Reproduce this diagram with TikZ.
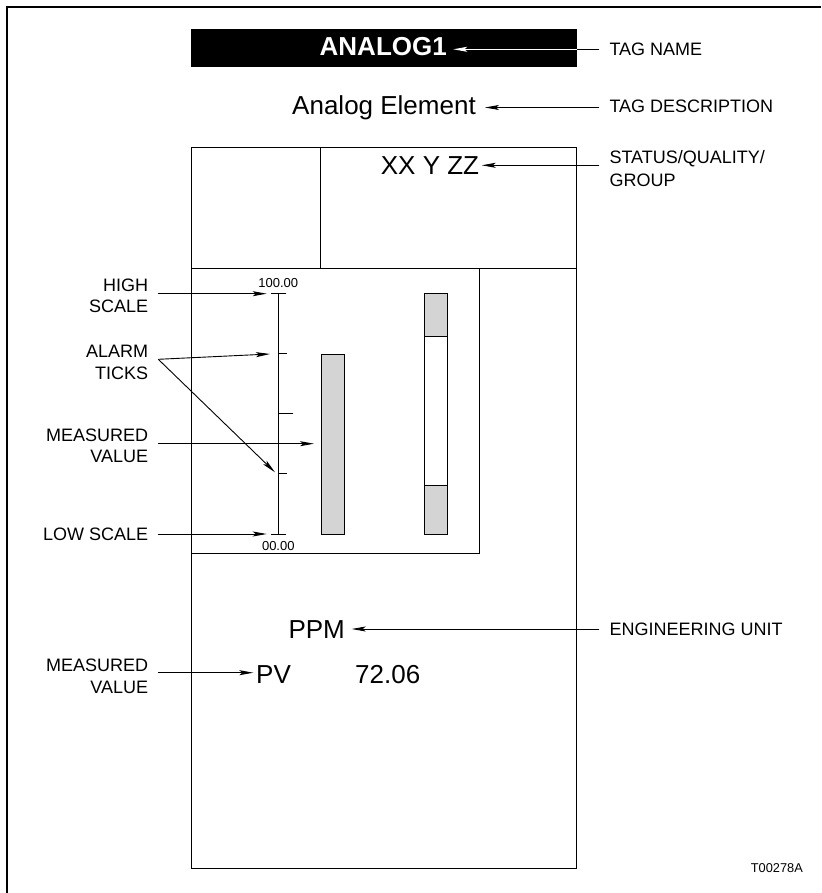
\documentclass[tikz,border=0pt]{standalone}
\usepackage{fontspec}
\setmainfont{Liberation Sans}
\usetikzlibrary{arrows.meta,calc}
\definecolor{bargray}{RGB}{212,212,212}
\begin{document}
\begin{tikzpicture}[x=1pt,y=-1pt,
  lbl/.style={font=\fontsize{18}{21.7}\selectfont, inner sep=0pt, align=right, anchor=base east},
  rlbl/.style={font=\fontsize{18}{22.7}\selectfont, inner sep=0pt, align=left, anchor=base west},
  big/.style={font=\fontsize{26}{30}\selectfont, inner sep=0pt},
  small/.style={font=\fontsize{13}{15}\selectfont, inner sep=0pt, anchor=base},
  arr/.style={-{Stealth[length=14pt,width=5pt,inset=3pt]}, line width=0.9pt},
  ln/.style={line width=1pt},
  bar/.style={fill=bargray, draw=black, line width=1pt}
]
\useasboundingbox (0,0) rectangle (821,893);
% frame
\draw[line width=2pt] (6.5,893) -- (6.5,7) -- (821,7);

% tag name block
\fill (190.7,29) rectangle (576.7,66.7);
\coordinate (boxedge) at (576.7,49.3);
\node[big, text=white, font=\fontsize{26}{30}\selectfont\bfseries, anchor=base east] (tag) at (447,56) {ANALOG1};
\node[big, anchor=base east] (desc) at (476,115) {Analog Element};

% main box
\draw[ln] (191.7,148) rectangle (576,868);
\draw[ln] (191.7,268) -- (576,268);
\draw[ln] (320.7,148) -- (320.7,268);
\draw[ln] (191.7,268) rectangle (479.3,553);
\node[big, anchor=base east] (stat) at (479.3,175) {XX Y ZZ};

% scale
\draw[ln] (278.7,293.7) -- (278.7,534);
\draw[ln] (271,293.7) -- (286,293.7);
\draw[ln] (271,534) -- (286,534);
\draw[ln] (278.7,353.7) -- (287.3,353.7);
\draw[ln] (278.7,413.3) -- (292.7,413.3);
\draw[ln] (278.7,473.3) -- (287.3,473.3);
\node[small] (hi) at (278.3,287.3) {100.00};
\node[small] (lo) at (278.3,550.3) {00.00};

% bars
\draw[bar] (321.7,354.3) rectangle (344,534);
\draw[bar] (424.3,293.3) rectangle (447.3,336.3);
\draw[ln, fill=white] (424.3,336.3) rectangle (447.3,485.3);
\draw[bar] (424.3,485.3) rectangle (447.3,534);

% lower texts
\node[big, anchor=base west] (ppm) at (288.3,638.3) {PPM};
\node[big, anchor=base west] (pv) at (256,683.3) {PV};
\node[big, anchor=base west] (val) at (355,683.3) {72.06};

% right labels
\node[rlbl] (ltn) at (609.3,56) {TAG NAME};
\node[rlbl] (ltd) at (609.3,112.7) {TAG DESCRIPTION};
\node[rlbl] (lsq) at (609.3,186.7) {STATUS/QUALITY/\\GROUP};
\node[rlbl] (leu) at (609.3,635) {ENGINEERING UNIT};
\node[font=\fontsize{12.8}{15}\selectfont, inner sep=0pt, anchor=base west] (fig) at (750.7,872.7) {T00278A};

% left labels
\node[lbl] (lhs) at (148.3,312.7) {HIGH\\SCALE};
\node[lbl] (lat) at (148.3,379) {ALARM\\TICKS};
\node[lbl] (lmv) at (148.3,462.7) {MEASURED\\VALUE};
\node[lbl] (lls) at (148.3,540) {LOW SCALE};
\node[lbl] (lpv) at (148.3,693) {MEASURED\\VALUE};

% connectors (right)
\coordinate (s1) at (599.3,49.3);  \coordinate (e1) at (453.3,49.3);
\coordinate (s2) at (599.3,107.5); \coordinate (e2) at (485,107.5);
\coordinate (s3) at (599.3,165.3); \coordinate (e3) at (481.7,165.3);
\coordinate (s4) at (599.3,629);   \coordinate (e4) at (351.7,629);
\draw[arr, white] (boxedge) -- (e1);
\draw[line width=0.9pt] (s1) -- (boxedge);
\draw[arr] (s2) -- (e2);
\draw[arr] (s3) -- (e3);
\draw[arr] (s4) -- (e4);

% connectors (left)
\coordinate (t1) at (158.3,293.7); \coordinate (f1) at (266.7,293.7);
\coordinate (t2) at (158.3,359.3); \coordinate (f2a) at (270,354); \coordinate (f2b) at (275,472.3);
\coordinate (t3) at (158.3,443.7); \coordinate (f3) at (314,443.7);
\coordinate (t4) at (158.3,534);   \coordinate (f4) at (266.7,534);
\coordinate (t5) at (158.3,672.7); \coordinate (f5) at (253.3,672.7);
\draw[arr] (t1) -- (f1);
\draw[arr] (t2) -- (f2a);
\draw[arr] (t2) -- (f2b);
\draw[arr] (t3) -- (f3);
\draw[arr] (t4) -- (f4);
\draw[arr] (t5) -- (f5);
\end{tikzpicture}
\end{document}
